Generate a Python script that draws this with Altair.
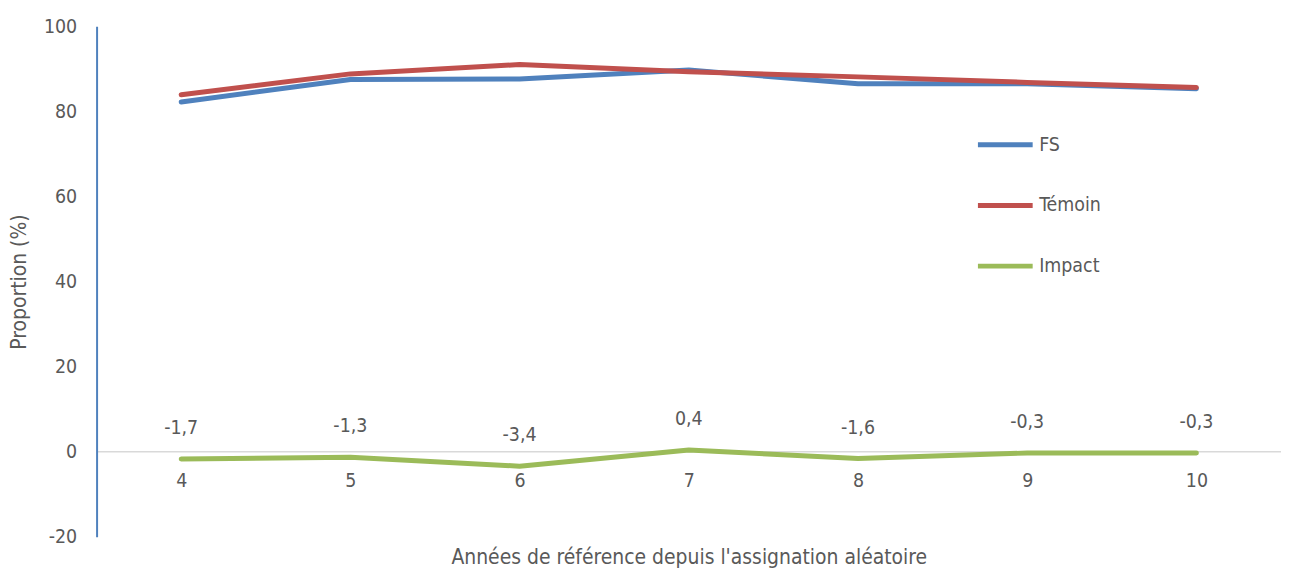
import altair as alt
import pandas as pd

years = ["4", "5", "6", "7", "8", "9", "10"]
fs = [82.2, 87.5, 87.6, 89.7, 86.5, 86.5, 85.3]
temoin = [83.9, 88.8, 91.0, 89.3, 88.1, 86.8, 85.6]
impact = [-1.7, -1.3, -3.4, 0.4, -1.6, -0.3, -0.3]
impact_labels = ["-1,7", "-1,3", "-3,4", "0,4", "-1,6", "-0,3", "-0,3"]

series = ["FS", "Témoin", "Impact"]
colors = ["#4F81BD", "#C0504D", "#9BBB59"]

rows = []
for name, vals in zip(series, [fs, temoin, impact]):
    for y, v in zip(years, vals):
        rows.append({"year": y, "series": name, "value": v})
df = pd.DataFrame(rows)
lab = pd.DataFrame({"year": years, "value": impact, "label": impact_labels})

FONT = "DejaVu Sans Condensed, Liberation Sans, sans-serif"
GRAY = "#595959"
FS_ = 19.5
TFS = 21

x = alt.X("year:N", sort=years, scale=alt.Scale(type="point", padding=0.5),
          axis=alt.Axis(title="Années de référence depuis l'assignation aléatoire",
                        labelAngle=0, offset=-86, ticks=False, domainColor="#D9D9D9",
                        domainWidth=1.5, labelPadding=20, titlePadding=57,
                        labelFontSize=FS_, titleFontSize=TFS, labelColor=GRAY,
                        titleColor=GRAY, titleFontWeight="normal", labelFont=FONT,
                        titleFont=FONT))

lines = alt.Chart(df).mark_line(strokeWidth=5, strokeCap="round", strokeJoin="round").encode(
    x=x,
    y=alt.Y("value:Q", scale=alt.Scale(domain=[-20, 100], nice=False),
            axis=alt.Axis(title="Proportion (%)", values=[-20, 0, 20, 40, 60, 80, 100],
                          labelExpr="replace(datum.label, '\u2212', '-')",
                          grid=False, ticks=False, domainColor="#4F81BD", domainWidth=2,
                          labelPadding=20, titlePadding=14, labelFontSize=FS_,
                          titleFontSize=TFS, labelColor=GRAY, titleColor=GRAY,
                          titleFontWeight="normal", labelFont=FONT, titleFont=FONT)),
    color=alt.Color("series:N", sort=series,
                    scale=alt.Scale(domain=series, range=colors),
                    legend=alt.Legend(title=None, orient="none", legendX=883, legendY=89,
                                      symbolType="stroke", symbolSize=3025,
                                      symbolStrokeWidth=5, rowPadding=21, labelOffset=4,
                                      labelFontSize=FS_, labelColor=GRAY, labelFont=FONT)),
)

texts = alt.Chart(lab).mark_text(dy=-31, fontSize=FS_, color=GRAY, font=FONT).encode(
    x=alt.X("year:N", sort=years),
    y=alt.Y("value:Q"),
    text="label:N",
)

chart = alt.layer(lines, texts).properties(
    width=1190, height=513,
    autosize=alt.AutoSizeParams(type="none"),
    padding={"left": 89, "top": 17, "right": 0, "bottom": 35},
).configure_view(stroke=None)

chart.save("out.html", embed_options={"renderer": "svg", "actions": False})
